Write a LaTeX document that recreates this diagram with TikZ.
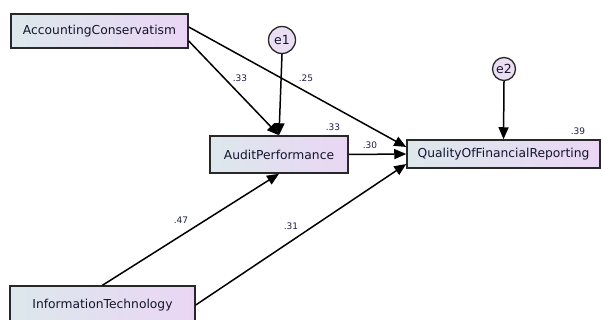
\documentclass[tikz,border=0pt]{standalone}
\usepackage{fontspec}
\setmainfont{DejaVu Sans}
\usetikzlibrary{arrows.meta}
\definecolor{boxL}{RGB}{220,232,236}
\definecolor{boxR}{RGB}{234,214,244}
\definecolor{circ}{RGB}{234,222,242}
\definecolor{txt}{RGB}{20,20,45}
\definecolor{lbl}{RGB}{30,30,70}
\definecolor{edge}{RGB}{40,40,40}
\tikzset{
  var/.style={draw=edge, line width=1.5pt, left color=boxL, right color=boxR, text=txt,
    font=\fontsize{12.3}{13}\selectfont, inner sep=0pt},
  err/.style={circle, draw=edge, line width=1.3pt, fill=circ, text=txt, inner sep=0pt,
    minimum size=27pt, font=\fontsize{12.5}{13}\selectfont},
  path/.style={draw=black, line width=1.5pt, -{Triangle[length=12pt,width=10pt]}},
  coef/.style={text=lbl, font=\fontsize{9}{10}\selectfont, inner sep=0pt}
}
\begin{document}
\begin{tikzpicture}[x=1pt,y=-1pt]
\useasboundingbox (0,0) rectangle (601,320);
\clip (0,0) rectangle (601,320);
\node[var, minimum width=177pt, minimum height=34pt] (ac) at (99.5,31) {AccountingConservatism};
\node[var, minimum width=138pt, minimum height=37pt] (ap) at (279,154.5) {AuditPerformance};
\node[var, minimum width=193pt, minimum height=28pt] (qfr) at (503.5,154) {QualityOfFinancialReporting};
\node[var, minimum width=185pt, minimum height=38pt] (it) at (102.5,305) {InformationTechnology};
\node[err] (e1) at (282,40) {e1};
\node[err, minimum size=23pt] (e2) at (504,69) {e2};
\draw[path] ([yshift=-10pt]ac.east) -- (ap.north);
\draw[path] ([yshift=4pt]ac.east) -- ([yshift=7pt]qfr.west);
\draw[path] (e1.south) -- (ap.north);
\draw[path] (ap.east) -- (qfr.west);
\draw[path] (it.north) -- (ap.south);
\draw[path] (it.east) -- ([yshift=-10pt]qfr.west);
\draw[path] (e2.south) -- (qfr.north);
\node[coef] (l1) at (240,78) {.33};
\node[coef] (l2) at (306,78) {.25};
\node[coef] (l3) at (333,127) {.33};
\node[coef] (l4) at (370,145) {.30};
\node[coef] (l5) at (578,131) {.39};
\node[coef] (l6) at (181,220) {.47};
\node[coef] (l7) at (291,226) {.31};
\end{tikzpicture}
\end{document}
